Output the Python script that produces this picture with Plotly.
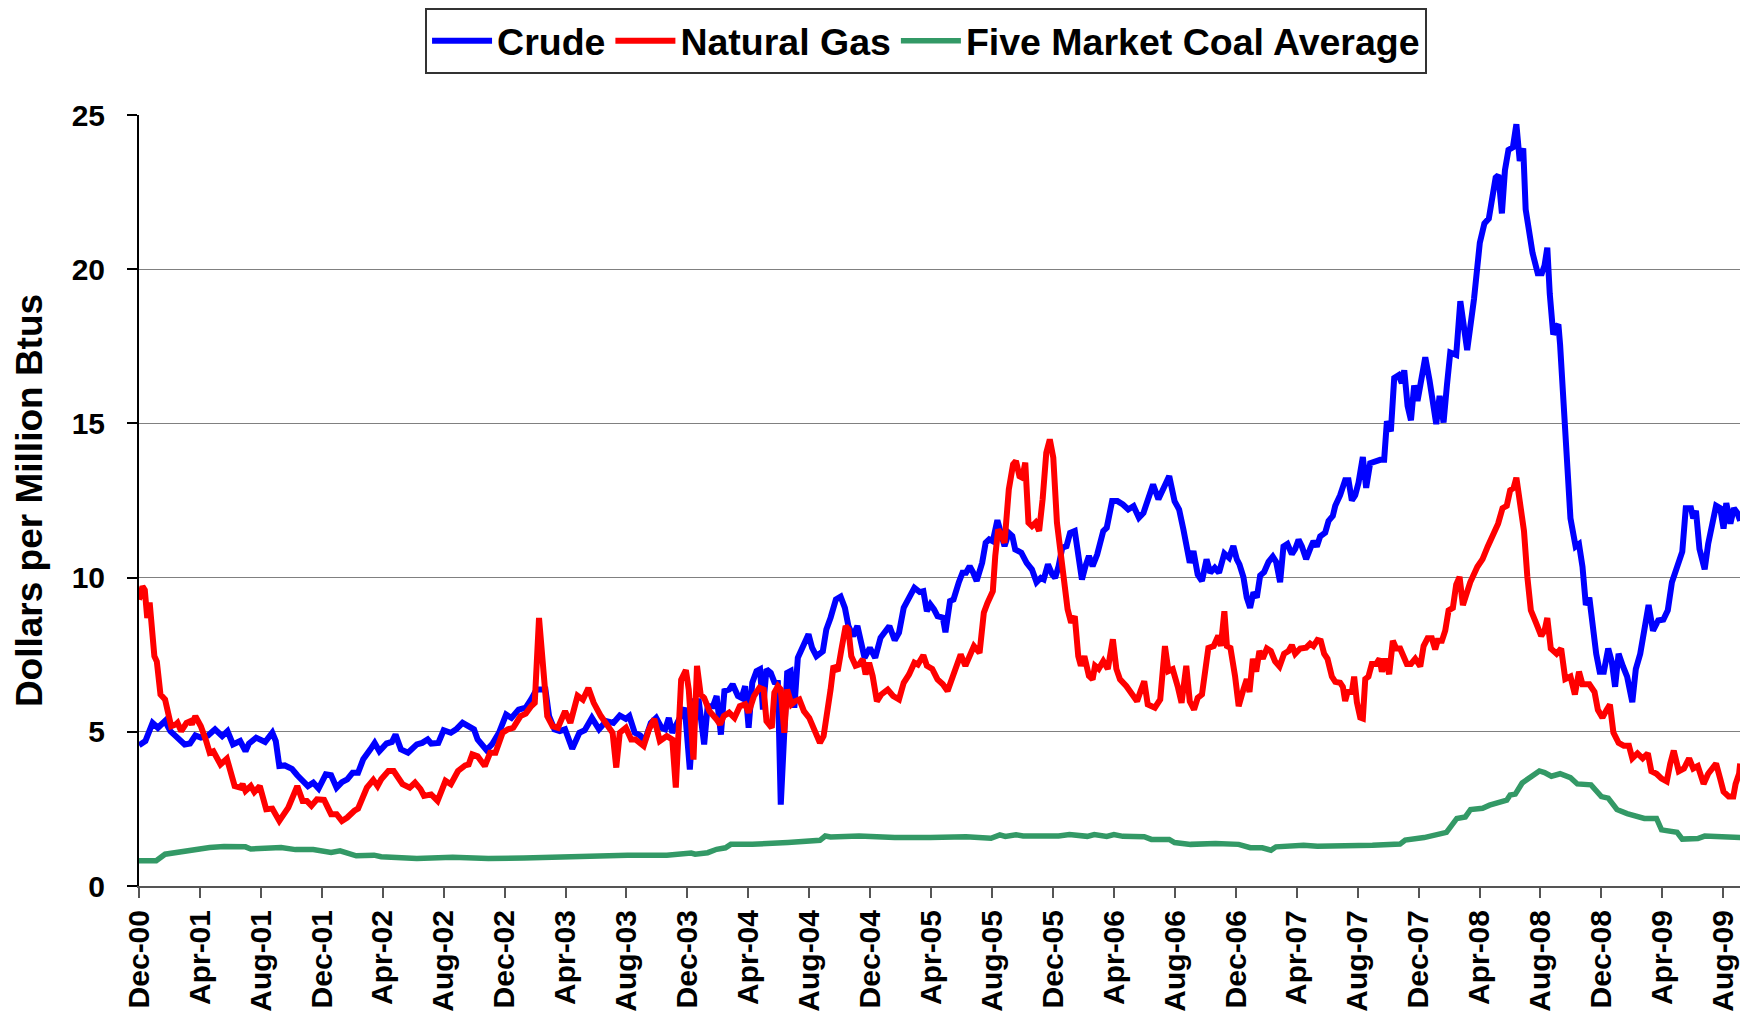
import plotly.graph_objects as go

# x positions are months since Dec-2000
tick_labels = ["Dec-00", "Apr-01", "Aug-01", "Dec-01", "Apr-02", "Aug-02", "Dec-02",
               "Apr-03", "Aug-03", "Dec-03", "Apr-04", "Aug-04", "Dec-04", "Apr-05",
               "Aug-05", "Dec-05", "Apr-06", "Aug-06", "Dec-06", "Apr-07", "Aug-07",
               "Dec-07", "Apr-08", "Aug-08", "Dec-08", "Apr-09", "Aug-09"]
tick_months = [4 * i for i in range(len(tick_labels))]

crude_points = [
    (0.0, 4.56), (0.42, 4.70), (0.89, 5.29), (1.24, 5.13), (1.71, 5.35), (2.06, 5.02), (2.41, 4.86),
    (3.0, 4.59), (3.35, 4.62), (3.7, 4.88), (4.06, 4.81), (4.53, 4.88), (4.99, 5.08), (5.46, 4.86),
    (5.81, 5.02), (6.17, 4.59), (6.64, 4.70), (6.99, 4.37), (7.22, 4.62), (7.69, 4.81), (8.28, 4.67),
    (8.75, 4.97), (8.98, 4.70), (9.21, 3.89), (9.57, 3.91), (10.04, 3.80), (10.39, 3.59), (11.09, 3.24),
    (11.44, 3.35), (11.79, 3.16), (12.26, 3.62), (12.61, 3.59), (12.97, 3.19), (13.32, 3.37),
    (13.67, 3.46), (14.02, 3.67), (14.38, 3.67), (14.72, 4.11), (15.19, 4.43), (15.47, 4.64),
    (15.78, 4.37), (16.25, 4.62), (16.6, 4.67), (16.84, 4.91), (17.19, 4.43), (17.66, 4.32),
    (18.24, 4.59), (18.59, 4.64), (18.95, 4.75), (19.18, 4.62), (19.65, 4.64), (20.0, 5.05),
    (20.47, 4.97), (20.82, 5.08), (21.24, 5.29), (21.64, 5.19), (21.99, 5.08), (22.23, 4.75),
    (22.81, 4.41), (23.17, 4.59), (23.63, 4.97), (24.1, 5.56), (24.45, 5.45), (24.92, 5.72),
    (25.39, 5.78), (25.74, 6.05), (26.1, 6.37), (26.68, 6.37), (26.92, 5.51), (27.27, 5.08),
    (27.62, 5.02), (27.97, 5.08), (28.44, 4.45), (28.91, 4.97), (29.26, 5.05), (29.73, 5.45),
    (30.2, 5.08), (30.67, 5.35), (31.14, 5.29), (31.56, 5.53), (31.96, 5.42), (32.19, 5.51),
    (32.54, 4.97), (32.9, 4.88), (33.2, 4.70), (33.6, 5.29), (33.95, 5.45), (34.3, 5.13),
    (34.54, 5.08), (34.78, 5.45), (35.01, 4.97), (35.83, 5.78),
    (36.16, 3.78), (36.47, 5.99), (36.75, 5.99), (37.10, 4.59), (37.33, 5.83), (37.68, 5.83),
    (37.92, 6.16), (38.20, 4.91), (38.43, 6.32), (38.74, 6.37), (38.97, 6.54), (39.32, 6.16),
    (39.56, 6.10), (39.79, 6.48), (40.02, 5.13), (40.26, 6.59), (40.54, 6.97), (40.77, 7.03),
    (40.96, 5.72), (41.19, 7.03), (41.47, 6.91), (41.71, 6.61), (41.94, 6.59), (42.13, 2.64),
    (42.55, 6.91), (42.78, 6.97), (43.02, 5.78), (43.25, 7.40), (43.65, 7.78), (43.95, 8.16),
    (44.19, 7.72), (44.47, 7.45), (44.89, 7.61), (45.12, 8.32), (45.40, 8.70), (45.75, 9.29),
    (46.06, 9.38), (46.34, 9.02), (46.57, 8.43), (46.88, 8.10), (47.16, 8.43), (47.39, 7.99),
    (47.63, 7.40), (47.98, 7.72), (48.33, 7.40), (48.68, 8.05), (49.03, 8.32), (49.26, 8.43),
    (49.61, 7.97), (49.89, 8.21), (50.20, 9.02), (50.55, 9.40), (50.90, 9.67), (51.25, 9.53),
    (51.49, 9.56), (51.72, 8.91), (51.95, 9.13), (52.19, 8.97), (52.42, 8.75), (52.77, 8.70),
    (52.94, 8.23), (53.24, 9.24), (53.47, 9.29), (53.82, 9.85), (54.06, 10.16), (54.29, 10.16),
    (54.53, 10.37), (54.76, 10.16), (54.99, 9.89), (55.35, 10.48), (55.58, 11.13), (55.81, 11.24),
    (56.05, 11.18), (56.35, 11.86), (56.58, 11.40), (56.82, 11.02), (57.10, 11.45), (57.33, 11.35),
    (57.52, 10.91), (57.92, 10.81), (58.27, 10.48), (58.62, 10.26), (58.92, 9.85), (59.20, 9.99),
    (59.39, 9.94), (59.67, 10.43), (59.95, 10.10), (60.14, 9.99), (60.37, 10.37), (60.61, 10.97),
    (60.89, 11.02), (61.12, 11.45), (61.43, 11.51), (61.66, 10.59), (61.90, 9.94), (62.13, 10.37),
    (62.36, 10.70), (62.60, 10.37), (62.90, 10.75), (63.30, 11.51), (63.53, 11.62), (63.88, 12.48),
    (64.23, 12.48), (64.59, 12.37), (64.94, 12.21), (65.29, 12.32), (65.64, 11.94), (65.94, 12.10),
    (66.22, 12.54), (66.57, 13.02), (66.92, 12.54), (67.27, 12.97), (67.63, 13.29), (67.98, 12.48),
    (68.28, 12.21), (68.56, 11.56), (68.80, 11.02), (68.98, 10.48), (69.22, 10.86), (69.50, 10.10),
    (69.78, 9.89), (70.08, 10.59), (70.32, 10.16), (70.62, 10.32), (70.90, 10.16), (71.25, 10.78),
    (71.56, 10.64), (71.84, 11.02), (72.07, 10.59),
    (72.24, 10.43), (72.50, 10.02), (72.72, 9.35), (72.94, 9.02), (73.16, 9.52), (73.38, 9.35),
    (73.60, 10.07), (73.86, 10.18), (74.15, 10.51), (74.43, 10.68), (74.65, 10.51), (74.91, 9.85),
    (75.13, 11.01), (75.39, 11.09), (75.68, 10.76), (75.90, 10.93), (76.12, 11.23), (76.34, 11.01),
    (76.62, 10.60), (76.88, 10.93), (77.10, 11.18), (77.32, 11.01), (77.54, 11.34), (77.87, 11.46),
    (78.09, 11.84), (78.37, 12.00), (78.53, 12.33), (78.85, 12.67), (79.18, 13.16), (79.40, 13.16),
    (79.62, 12.50), (79.84, 12.67), (80.06, 13.08), (80.34, 13.91), (80.56, 12.91), (80.82, 13.71),
    (81.15, 13.77), (81.48, 13.82), (81.74, 13.82), (81.92, 15.07), (82.18, 14.74), (82.40, 16.47),
    (82.69, 16.56), (82.90, 16.31), (83.06, 16.72), (83.28, 15.56), (83.50, 15.10), (83.71, 16.23),
    (83.93, 15.73), (84.11, 16.31), (84.44, 17.14), (84.72, 16.39), (84.98, 15.48), (85.16, 14.98),
    (85.38, 15.89), (85.64, 15.03), (85.86, 16.23), (86.08, 17.30), (86.47, 17.22), (86.74, 18.96),
    (87.19, 17.38), (87.64, 19.04), (88.02, 20.86), (88.32, 21.48), (88.61, 21.64), (88.84, 22.20),
    (89.06, 22.97), (89.24, 23.05), (89.47, 21.81), (89.67, 23.21), (89.90, 23.87), (90.19, 23.95),
    (90.42, 24.70), (90.64, 23.51), (90.87, 23.92), (91.03, 21.94), (91.25, 21.19), (91.48, 20.53),
    (91.82, 19.87), (92.09, 19.87), (92.27, 20.12), (92.45, 20.70), (92.61, 19.21), (92.84, 17.88),
    (93.06, 18.13), (93.18, 18.21), (93.29, 17.55), (93.51, 15.73), (93.74, 13.58), (93.97, 11.92),
    (94.31, 11.01), (94.53, 11.09), (94.76, 10.35), (94.98, 9.11), (95.21, 9.35), (95.44, 8.28),
    (95.66, 7.53), (95.89, 6.95), (96.16, 6.95), (96.45, 7.70), (96.68, 7.28), (96.90, 6.46),
    (97.13, 7.53), (97.42, 7.12), (97.69, 6.79), (98.03, 5.96), (98.26, 7.03), (98.55, 7.53),
    (98.82, 8.28), (99.10, 9.11), (99.39, 8.28), (99.73, 8.61), (100.07, 8.64), (100.36, 8.94),
    (100.63, 9.85), (100.97, 10.43), (101.31, 10.84), (101.54, 12.25), (101.88, 12.25),
    (102.03, 11.92), (102.21, 12.17), (102.44, 10.93), (102.78, 10.27), (103.01, 11.09),
    (103.23, 11.67), (103.53, 12.33), (103.80, 12.25), (104.02, 11.59), (104.20, 12.42),
    (104.47, 11.75), (104.70, 12.25), (104.93, 12.09), (105.11, 11.84),
]

gas_points = [
    (0.0, 9.28), (0.23, 9.71), (0.38, 9.60), (0.54, 8.69), (0.70, 9.19), (1.01, 7.45), (1.17, 7.28),
    (1.41, 6.21), (1.71, 6.05), (1.95, 5.51), (2.11, 5.18), (2.42, 5.24), (2.53, 5.29), (2.77, 5.02),
    (3.12, 5.29), (3.35, 5.34), (3.47, 5.24), (3.70, 5.51), (4.06, 5.18), (4.41, 4.70), (4.64, 4.32),
    (4.88, 4.37), (5.35, 3.94), (5.77, 4.13), (6.00, 3.78), (6.28, 3.24), (6.64, 3.19), (6.80, 3.30),
    (6.99, 3.08), (7.34, 3.24), (7.57, 3.05), (7.93, 3.24), (8.35, 2.49), (8.75, 2.51), (9.21, 2.11),
    (9.52, 2.38), (9.80, 2.54), (10.39, 3.24), (10.74, 2.76), (11.02, 2.76), (11.32, 2.60),
    (11.68, 2.81), (12.15, 2.79), (12.61, 2.33), (12.97, 2.33), (13.32, 2.11), (13.67, 2.22),
    (14.14, 2.44), (14.38, 2.51), (14.96, 3.19), (15.38, 3.44), (15.66, 3.24), (15.90, 3.46),
    (16.37, 3.73), (16.72, 3.73), (17.30, 3.30), (17.77, 3.19), (18.12, 3.35), (18.48, 3.14),
    (18.71, 2.92), (19.18, 2.97), (19.60, 2.76), (20.12, 3.41), (20.47, 3.30), (20.94, 3.73),
    (21.41, 3.91), (21.64, 3.94), (21.88, 4.27), (22.23, 4.21), (22.70, 3.89), (23.05, 4.32),
    (23.40, 4.32), (23.87, 4.97), (24.22, 5.08), (24.57, 5.13), (25.04, 5.51), (25.39, 5.59),
    (25.74, 5.83), (25.98, 5.94), (26.26, 8.69), (26.57, 7.12), (26.80, 5.51), (27.15, 5.18),
    (27.50, 5.13), (27.97, 5.67), (28.32, 5.29), (28.79, 6.17), (29.14, 6.04), (29.50, 6.42),
    (29.85, 5.94), (30.32, 5.51), (30.79, 5.18), (31.09, 4.97), (31.33, 3.84), (31.56, 4.97),
    (31.96, 5.13), (32.31, 4.75), (32.59, 4.75), (33.13, 4.54), (33.48, 5.08), (33.83, 5.42),
    (34.19, 4.70), (34.65, 4.86), (35.01, 4.75), (35.24, 3.19), (35.59, 6.69), (35.90, 7.00),
    (36.09, 6.37), (36.40, 4.10), (36.63, 7.14), (36.87, 6.21), (37.10, 6.10), (37.45, 5.67),
    (37.92, 5.40), (38.15, 5.24), (38.39, 5.51), (38.74, 5.62), (39.09, 5.45), (39.44, 5.83),
    (39.79, 5.89), (40.02, 5.62), (40.37, 6.16), (40.73, 6.43), (41.01, 6.37), (41.19, 5.35),
    (41.54, 5.13), (41.71, 6.27), (41.94, 6.48), (42.13, 6.37), (42.36, 4.97), (42.55, 6.37),
    (42.83, 5.89), (43.06, 5.99), (43.35, 6.05), (43.65, 5.67), (44.00, 5.45), (44.35, 5.02),
    (44.70, 4.64), (44.94, 4.86), (45.17, 5.51), (45.40, 6.37), (45.59, 7.14), (45.87, 6.97),
    (46.11, 7.67), (46.39, 8.43), (46.57, 8.32), (46.76, 7.45), (47.04, 7.14), (47.27, 7.18),
    (47.51, 7.35), (47.70, 6.86), (47.93, 7.24), (48.16, 6.81), (48.44, 5.99), (48.73, 6.21),
    (49.15, 6.37), (49.50, 6.16), (49.89, 6.05), (50.20, 6.59), (50.55, 6.86), (50.90, 7.24),
    (51.13, 7.18), (51.49, 7.48), (51.72, 7.14), (52.07, 7.04), (52.42, 6.70), (52.77, 6.54),
    (53.08, 6.32), (53.36, 6.70), (53.64, 7.14), (53.94, 7.51), (54.25, 7.14), (54.48, 7.45),
    (54.81, 7.78), (55.18, 7.56), (55.46, 8.86), (55.70, 9.18), (56.05, 9.56), (56.21, 10.70),
    (56.40, 11.56), (56.63, 11.35), (56.82, 11.13), (57.10, 12.86), (57.38, 13.67), (57.57, 13.78),
    (57.80, 13.29), (57.99, 13.24), (58.18, 13.73), (58.39, 11.78), (58.62, 11.67), (58.85, 11.78),
    (59.09, 11.51), (59.32, 12.54), (59.56, 14.05), (59.79, 14.48), (60.02, 13.89), (60.26, 11.78),
    (60.49, 10.75), (60.73, 9.72), (60.96, 8.97), (61.19, 8.54), (61.43, 8.75), (61.66, 7.45),
    (61.83, 7.14), (62.06, 7.45), (62.36, 6.81), (62.60, 6.70), (62.76, 7.14), (63.00, 7.04),
    (63.30, 7.29), (63.60, 7.04), (63.93, 8.00), (64.16, 7.04), (64.40, 6.70), (64.82, 6.48),
    (65.17, 6.27), (65.52, 5.99), (65.75, 6.32), (65.99, 6.64), (66.22, 5.89), (66.69, 5.78),
    (67.04, 6.05), (67.35, 7.78), (67.58, 6.97), (67.86, 7.03), (68.21, 6.43), (68.44, 5.94),
    (68.75, 7.14), (68.98, 5.99), (69.26, 5.72), (69.50, 6.10), (69.78, 6.21), (69.96, 7.03),
    (70.20, 7.72), (70.55, 7.78), (70.85, 8.12), (71.02, 7.78), (71.25, 8.91), (71.42, 7.78),
    (71.65, 7.72), (71.95, 6.81), (72.19, 5.83),
    (72.50, 6.37), (72.72, 6.71), (72.90, 6.29), (73.12, 7.37), (73.34, 6.95), (73.55, 7.62),
    (73.77, 7.37), (74.04, 7.70), (74.30, 7.62), (74.58, 7.28), (74.87, 7.12), (75.17, 7.53),
    (75.46, 7.62), (75.68, 7.81), (75.90, 7.53), (76.23, 7.70), (76.62, 7.73), (76.88, 7.86),
    (77.10, 7.78), (77.36, 7.98), (77.58, 7.95), (77.80, 7.53), (78.02, 7.37), (78.31, 6.79),
    (78.53, 6.62), (78.85, 6.59), (79.03, 6.46), (79.18, 6.00), (79.34, 6.29), (79.62, 6.29),
    (79.77, 6.79), (79.95, 5.96), (80.17, 5.46), (80.34, 5.43), (80.50, 6.71), (80.71, 6.79),
    (80.93, 7.20), (81.22, 7.20), (81.44, 7.37), (81.59, 6.95), (81.81, 7.37), (82.07, 6.87),
    (82.31, 7.95), (82.53, 7.70), (82.79, 7.70), (83.01, 7.45), (83.23, 7.20), (83.50, 7.20),
    (83.78, 7.37), (84.11, 7.12), (84.33, 7.78), (84.59, 8.03), (84.87, 8.03), (85.09, 7.67),
    (85.25, 7.95), (85.53, 7.95), (85.75, 8.28), (85.97, 8.94), (86.25, 9.02), (86.47, 9.77),
    (86.69, 10.02), (86.91, 9.11), (87.17, 9.52), (87.39, 9.85),
    (87.86, 10.35), (88.20, 10.60), (88.54, 11.01), (88.88, 11.34), (89.22, 11.75), (89.51, 12.25),
    (89.79, 12.33), (90.01, 12.83), (90.24, 12.91), (90.42, 13.24), (90.58, 12.67), (90.92, 11.51),
    (91.14, 10.02), (91.37, 8.94), (91.71, 8.53), (92.05, 8.11), (92.27, 8.28), (92.45, 8.69),
    (92.68, 7.70), (93.06, 7.53), (93.36, 7.70), (93.63, 6.71), (93.97, 6.79), (94.26, 6.21),
    (94.53, 6.95), (94.76, 6.54), (95.21, 6.54), (95.55, 6.29), (95.77, 5.71), (96.07, 5.46),
    (96.34, 5.71), (96.56, 5.88), (96.79, 4.97), (97.13, 4.64), (97.47, 4.55), (97.81, 4.55),
    (98.03, 4.14), (98.37, 4.30), (98.71, 4.14), (99.05, 4.30), (99.28, 3.72), (99.62, 3.64),
    (99.95, 3.48), (100.29, 3.39), (100.52, 3.97), (100.75, 4.39), (101.08, 3.72), (101.42, 3.81),
    (101.76, 4.14), (102.03, 3.81), (102.33, 3.89), (102.71, 3.31), (103.01, 3.64), (103.35, 3.89),
    (103.53, 3.97), (103.80, 3.48), (104.02, 3.06), (104.36, 2.90), (104.66, 2.90), (104.81, 3.31),
    (105.04, 3.64), (105.11, 3.97),
]

coal_points = [
    (0.0, 0.82), (1.13, 0.82), (1.71, 1.03), (2.53, 1.09), (3.24, 1.18), (3.94, 1.20), (4.64, 1.25),
    (5.58, 1.28), (6.52, 1.30), (6.99, 1.27), (7.34, 1.20), (8.39, 1.22), (9.33, 1.25), (10.27, 1.18),
    (11.44, 1.18), (12.61, 1.09), (13.20, 1.14), (14.26, 0.98), (15.43, 1.00), (15.90, 0.95),
    (18.24, 0.89), (20.59, 0.93), (22.93, 0.89), (25.27, 0.91), (27.62, 0.95), (29.96, 0.95),
    (32.07, 1.00), (34.65, 1.00), (36.25, 1.07),
    (36.51, 1.03), (37.33, 1.08), (37.92, 1.19), (38.50, 1.24), (38.85, 1.35), (40.26, 1.35),
    (42.60, 1.41), (44.00, 1.46), (44.70, 1.48), (45.05, 1.62), (45.40, 1.59), (47.27, 1.62),
    (49.61, 1.57), (51.95, 1.57), (54.29, 1.60), (55.93, 1.55), (56.51, 1.66), (56.87, 1.61),
    (57.57, 1.66), (58.04, 1.62), (60.37, 1.62), (61.08, 1.67), (62.25, 1.61), (62.71, 1.67),
    (63.53, 1.61), (64.00, 1.67), (64.59, 1.61), (65.99, 1.60), (66.46, 1.51), (67.63, 1.51),
    (67.98, 1.41), (69.03, 1.35), (70.67, 1.38), (72.19, 1.35),
    (72.95, 1.24), (73.74, 1.24), (74.31, 1.16), (74.64, 1.27), (76.45, 1.32), (77.36, 1.29),
    (78.71, 1.29), (80.97, 1.32), (82.78, 1.36), (83.12, 1.49), (84.36, 1.57), (85.27, 1.66),
    (85.83, 1.74), (86.51, 2.19), (87.07, 2.24), (87.41, 2.48), (88.20, 2.52), (88.66, 2.62),
    (89.33, 2.73), (89.79, 2.78), (90.01, 2.95), (90.35, 2.98), (90.80, 3.34), (91.37, 3.56),
    (91.93, 3.73), (92.27, 3.68), (92.72, 3.56), (93.29, 3.64), (93.97, 3.51), (94.42, 3.31),
    (95.32, 3.28), (96.00, 2.90), (96.45, 2.85), (97.02, 2.48), (97.69, 2.35), (98.82, 2.19),
    (99.62, 2.19), (99.95, 1.82), (100.97, 1.74), (101.31, 1.52), (102.33, 1.54), (102.78, 1.62),
    (105.11, 1.57),
]

series = [
    ("Crude", crude_points, "#0000FF", 6),
    ("Natural Gas", gas_points, "#FF0000", 6),
    ("Five Market Coal Average", coal_points, "#339966", 5.5),
]

FONT = "Liberation Sans, Arial, sans-serif"

fig = go.Figure()
for name, pts, colour, w in series:
    fig.add_trace(go.Scatter(
        x=[p[0] for p in pts],
        y=[p[1] for p in pts],
        mode="lines",
        name=name,
        line=dict(color=colour, width=w),
    ))

fig.update_layout(
    width=1740,
    height=1019,
    margin=dict(l=139, r=0, t=115, b=133, autoexpand=False),
    paper_bgcolor="white",
    plot_bgcolor="white",
    font=dict(family=FONT, color="black"),
    legend=dict(
        orientation="h",
        x=0.4916, xanchor="center",
        y=1.1388, yanchor="top",
        font=dict(family=FONT, size=37.5, weight="bold"),
        bordercolor="#333333",
        borderwidth=2,
        bgcolor="white",
        itemwidth=60,
    ),
    xaxis=dict(
        range=[0, 105.1],
        tickvals=tick_months,
        ticktext=tick_labels,
        tickangle=-90,
        ticks="outside",
        ticklen=10,
        tickwidth=1.5,
        tickcolor="#555555",
        showline=True,
        linecolor="#555555",
        linewidth=2,
        showgrid=False,
        zeroline=False,
        tickfont=dict(family=FONT, size=30, weight="bold"),
        ticklabelstandoff=0,
        ticklabeloverflow="allow",
    ),
    yaxis=dict(
        range=[0, 25],
        tickvals=[0, 5, 10, 15, 20, 25],
        ticks="outside",
        ticklen=10,
        tickwidth=1.5,
        tickcolor="black",
        showline=True,
        linecolor="black",
        linewidth=2,
        gridcolor="#808080",
        gridwidth=1,
        zeroline=False,
        tickfont=dict(family=FONT, size=30, weight="bold"),
        ticklabelstandoff=16,
        title=dict(text="Dollars per Million Btus",
                   font=dict(family=FONT, size=37, weight="bold"),
                   standoff=18),
    ),
)

# drop the default page margin so the 1740x1019 figure fills the window exactly
fig.write_html("out.html",
               config={"displayModeBar": False},
               post_script="document.body.style.margin='0';"
                           "document.documentElement.style.overflow='hidden';")
